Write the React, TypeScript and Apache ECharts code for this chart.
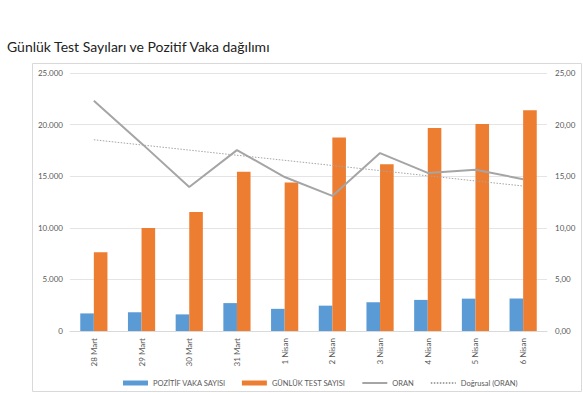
import React, { useEffect, useRef } from "react";
import * as echarts from "echarts";

const categories = ["28 Mart", "29 Mart", "30 Mart", "31 Mart", "1 Nisan", "2 Nisan", "3 Nisan", "4 Nisan", "5 Nisan", "6 Nisan"];
const pozitif = [1704, 1815, 1610, 2704, 2148, 2456, 2786, 3013, 3135, 3148];
const testSayisi = [7641, 9982, 11535, 15422, 14396, 18757, 16160, 19664, 20065, 21400];
const oran = [22.3, 18.18, 13.96, 17.53, 14.92, 13.09, 17.24, 15.32, 15.62, 14.71];
const dogrusal = [18.53, 18.03, 17.53, 17.03, 16.54, 16.04, 15.54, 15.04, 14.54, 14.05];
const leftTicks = [0, 5000, 10000, 15000, 20000, 25000];
const rightTicks = [0, 5, 10, 15, 20, 25];

const FONT = "Lato, 'Liberation Sans', sans-serif";
const TXT = "#595959";

export default function App() {
  const ref = useRef<HTMLDivElement>(null);
  useEffect(() => {
    if (!ref.current) return;
    const chart = echarts.init(ref.current, undefined, { renderer: "svg" });
    chart.setOption({
      animation: false,
      textStyle: { fontFamily: FONT },
      graphic: [
        {
          type: "rect",
          shape: { x: 32.5, y: 63.5, width: 549, height: 328 },
          style: { fill: "none", stroke: "#D9D9D9", lineWidth: 1 },
          silent: true,
        },
        {
          type: "text",
          left: 7,
          top: 39,
          style: { text: "Günlük Test Sayıları ve Pozitif Vaka dağılımı", fontSize: 14, fill: "#222", fontFamily: FONT },
        },
      ],
      grid: { left: 70, right: 36, top: 73, bottom: 62, containLabel: false },
      legend: {
        top: 374,
        left: 118,
        itemGap: 16,
        itemWidth: 25,
        itemHeight: 5,
        textStyle: { fontSize: 7.5, color: TXT, fontFamily: FONT },
        data: [
          { name: "POZİTİF VAKA SAYISI", icon: "rect" },
          { name: "GÜNLÜK TEST SAYISI", icon: "rect" },
          { name: "ORAN", itemStyle: { opacity: 0 } },
          { name: "Doğrusal (ORAN)", itemStyle: { opacity: 0 } },
        ],
      },
      xAxis: {
        type: "category",
        data: categories,
        axisLine: { lineStyle: { color: "#D9D9D9" } },
        axisTick: { show: false },
        axisLabel: { rotate: 90, color: TXT, fontSize: 8, margin: 7 },
      },
      yAxis: [
        {
          type: "value",
          min: 0,
          max: 25000,
          interval: 5000,
          axisLine: { show: false },
          axisTick: { show: false },
          splitLine: { lineStyle: { color: "#E4E4E4" } },
          axisLabel: {
            color: TXT,
            fontSize: 8,
            margin: 7,
            formatter: (v: number) => (leftTicks.includes(v) ? v.toLocaleString("de-DE") : ""),
          },
        },
        {
          type: "value",
          min: 0,
          max: 25,
          interval: 5,
          axisLine: { show: false },
          axisTick: { show: false },
          splitLine: { show: false },
          axisLabel: {
            color: TXT,
            fontSize: 8,
            margin: 8,
            formatter: (v: number) => (rightTicks.includes(v) ? v.toFixed(2).replace(".", ",") : ""),
          },
        },
      ],
      series: [
        {
          name: "POZİTİF VAKA SAYISI",
          type: "bar",
          data: pozitif,
          barGap: "0%",
          barCategoryGap: "43%",
          itemStyle: { color: "#5B9BD5" },
        },
        {
          name: "GÜNLÜK TEST SAYISI",
          type: "bar",
          data: testSayisi,
          itemStyle: { color: "#ED7D31" },
        },
        {
          name: "ORAN",
          type: "line",
          yAxisIndex: 1,
          data: oran,
          symbol: "none",
          lineStyle: { color: "#A5A5A5", width: 2 },
          itemStyle: { color: "#A5A5A5" },
        },
        {
          name: "Doğrusal (ORAN)",
          type: "line",
          yAxisIndex: 1,
          data: dogrusal,
          symbol: "none",
          lineStyle: { color: "#A5A5A5", width: 1, type: [1.5, 1.5] },
          itemStyle: { color: "#A5A5A5" },
        },
      ],
    });
    return () => chart.dispose();
  }, []);
  return <div ref={ref} style={{ width: 583, height: 393, position: "absolute", left: 0, top: 0 }} />;
}
